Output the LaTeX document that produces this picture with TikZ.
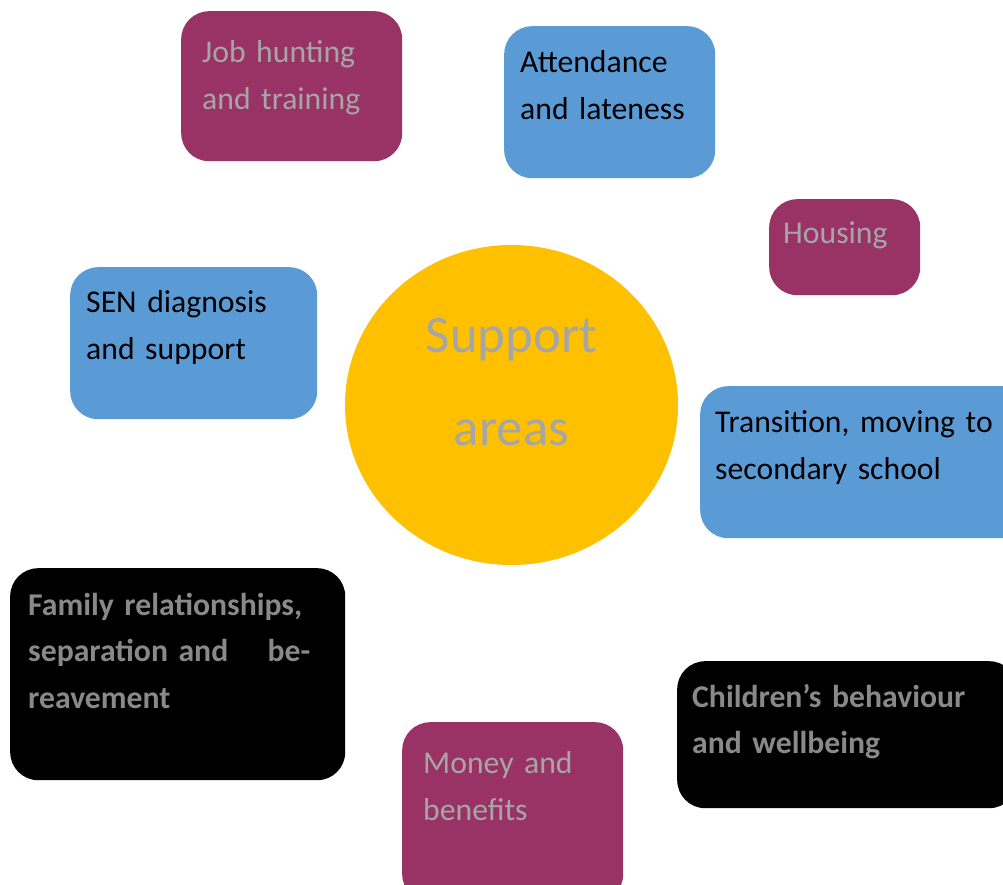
\documentclass[tikz,border=0pt]{standalone}
\usepackage{fontspec}
\setmainfont{Carlito}
\usetikzlibrary{shapes.geometric,positioning}
\definecolor{plum}{HTML}{993366}
\definecolor{skyblue}{HTML}{5B9BD5}
\definecolor{amber}{HTML}{FFC000}
\definecolor{softgray}{HTML}{A6A6A6}
\definecolor{darkgray}{HTML}{898989}

\begin{document}
\begin{tikzpicture}[
    x=1pt, y=-1pt,
    card/.style={rectangle, rounded corners=28pt, anchor=north west, inner ysep=0pt, align=left, font=\fontsize{31.7}{47}\selectfont},
    plumbox/.style={card, fill=plum, text=softgray},
    bluebox/.style={card, fill=skyblue, text=black},
    darkbox/.style={card, fill=black, text=darkgray, font=\fontsize{31.7}{46.5}\selectfont\bfseries},
    hub/.style={ellipse, fill=amber, text=softgray, inner sep=0pt, minimum width=333pt, minimum height=320pt, align=center, font=\fontsize{52.8}{93}\selectfont}
]

\clip (0,0) rectangle (1003,885);
\fill[white] (0,0) rectangle (1003,885);

% centre
\node[hub, text width=200pt, text height=35pt, text depth=141pt] (support) at (511.5,405) {Support\\areas};

% purple areas
\node[plumbox, inner xsep=21pt, text width=179pt, text height=51pt, text depth=99pt] (job) at (181,11) {Job hunting\\and training};
\node[plumbox, inner xsep=14pt, text width=123pt, text height=44pt, text depth=52pt] (housing) at (769,199) {Housing};
\node[plumbox, inner xsep=21pt, text width=179pt, text height=51pt, text depth=129pt] (money) at (402,722) {Money and\\benefits};

% blue areas
\node[bluebox, inner xsep=16pt, text width=179pt, text height=46pt, text depth=106pt] (attendance) at (504,26) {Attendance\\and lateness};
\node[bluebox, inner xsep=16pt, text width=215pt, text height=45pt, text depth=107pt] (sen) at (70,267) {SEN diagnosis\\and support};
\node[bluebox, inner xsep=15pt, text width=310pt, text height=46pt, text depth=106pt] (transition) at (700,386) {Transition, moving to\\secondary school};

% black areas
\node[darkbox, inner xsep=18pt, text width=299pt, text height=47pt, text depth=165pt] (family) at (10,568) {Family relationships,\\\makebox[282pt][l]{separation and\hfill be-}\\reavement};
\node[darkbox, inner xsep=15pt, text width=310pt, text height=46pt, text depth=101pt] (behaviour) at (677,661) {Children’s behaviour\\and wellbeing};

\end{tikzpicture}
\end{document}
